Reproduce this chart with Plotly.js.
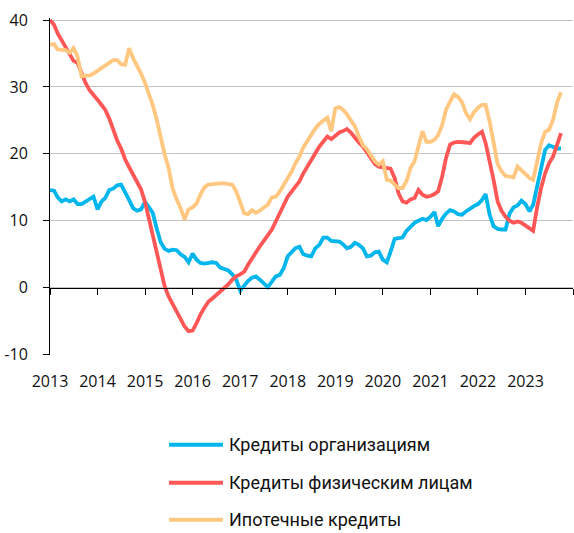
<!DOCTYPE html>
<html><head><meta charset="utf-8">
<script src="https://cdn.plot.ly/plotly-3.0.1.min.js"></script>
<style>html,body{margin:0;padding:0;background:#fff}#chart{width:574px;height:533px}</style>
</head><body><div id="chart"></div>
<script>
const seriesNames = ['Кредиты организациям', 'Кредиты физическим лицам', 'Ипотечные кредиты'];
const seriesColors = ['#00B6EC', '#FF5656', '#FFC77F'];
const yearLabels = ['2013','2014','2015','2016','2017','2018','2019','2020','2021','2022','2023'];
const yTickVals = [-10, 0, 10, 20, 30, 40];
const yTickText = ['-10', '0', '10', '20', '30', '40'];
const startYear = 2013;

// Monthly y/y growth, %, Jan 2013 – Oct 2023
const corporate = [
 14.6,14.5,13.5,12.9,13.2,12.9,13.2,12.5,12.5,12.9,13.3,13.6,
 11.7,12.9,13.4,14.6,14.8,15.3,15.4,14.1,13.1,11.9,11.5,11.7,
 12.8,12.0,11.2,8.8,6.8,5.8,5.5,5.7,5.6,5.0,4.6,3.8,
 5.1,4.2,3.7,3.6,3.7,3.8,3.7,3.0,2.8,2.6,2.0,1.2,
 -0.4,0.4,1.0,1.5,1.7,1.2,0.7,0.1,0.9,1.7,1.9,2.9,
 4.7,5.4,5.9,6.1,5.0,4.8,4.7,5.9,6.4,7.5,7.5,7.0,
 6.9,6.9,6.5,5.9,6.1,6.7,6.4,5.9,4.7,4.8,5.3,5.4,
 4.2,3.8,5.4,7.3,7.4,7.5,8.5,9.2,9.7,10.0,10.3,10.1,
 10.6,11.3,9.2,10.3,11.1,11.6,11.4,11.0,10.9,11.4,11.9,12.2,
 12.5,13.1,14.0,10.9,9.2,8.8,8.7,8.7,11.1,12.0,12.3,13.0,
 12.5,11.4,12.4,15.1,18.1,20.6,21.3,21.1,20.8,20.8
];
const retail = [
 40.0,39.3,38.0,36.9,35.9,35.0,33.9,33.6,31.9,30.6,29.5,28.7,
 28.1,27.3,26.6,25.3,23.6,22.0,20.8,19.2,18.0,17.0,15.7,14.7,
 12.8,10.2,7.6,4.8,2.4,0.2,-1.3,-2.5,-3.7,-4.7,-5.8,-6.5,
 -6.4,-5.3,-4.0,-3.0,-2.1,-1.6,-1.1,-0.5,0.0,0.5,1.2,1.7,
 2.0,2.4,3.4,4.4,5.3,6.2,7.0,7.9,8.7,9.9,11.1,12.4,
 13.6,14.4,15.1,15.9,17.1,18.2,19.1,20.1,21.1,21.9,22.6,22.2,
 22.8,23.2,23.4,23.7,23.2,22.4,21.7,21.1,20.3,19.5,18.5,18.1,
 18.0,17.9,17.8,16.4,14.1,12.9,12.7,13.2,13.4,14.6,13.9,13.6,
 13.7,14.0,14.4,16.6,19.4,21.4,21.7,21.8,21.8,21.7,21.6,22.4,
 22.9,23.3,21.6,18.9,16.1,12.9,11.5,10.6,10.0,9.7,9.9,9.7,
 9.3,9.0,8.5,12.1,14.9,17.1,18.6,19.6,21.3,23.1
];
const mortgage = [
 36.3,36.4,35.6,35.5,35.5,35.1,35.8,34.5,31.6,31.7,31.7,32.0,
 32.4,32.8,33.3,33.7,34.0,34.0,33.4,33.3,35.8,34.3,33.2,32.0,
 30.6,29.0,27.3,25.1,22.3,19.9,17.9,14.8,13.2,11.9,10.2,11.7,
 12.0,12.6,13.9,15.0,15.4,15.5,15.6,15.6,15.6,15.5,15.4,14.4,
 12.9,11.1,11.0,11.6,11.2,11.5,12.0,12.4,13.5,13.6,14.4,15.4,
 16.2,17.4,18.6,19.6,21.0,22.0,22.8,23.8,24.5,24.9,25.4,23.4,
 26.8,27.0,26.6,25.9,25.1,24.1,22.6,21.3,20.7,19.7,18.9,18.4,
 18.9,16.1,16.0,15.4,14.9,14.9,15.9,17.9,18.9,21.1,23.4,21.8,
 21.8,22.1,22.8,24.3,26.6,27.8,28.9,28.5,27.7,26.1,25.2,26.2,
 26.9,27.3,27.3,24.8,21.3,18.5,17.4,16.7,16.6,16.5,18.1,17.5,
 17.0,16.4,16.1,18.9,21.6,23.3,23.6,25.1,27.7,29.2
];

const pad = n => String(n).padStart(2, '0');
const months = corporate.map((_, i) => `${startYear + Math.floor(i / 12)}-${pad(i % 12 + 1)}-01`);
const yearTicks = yearLabels.map(y => `${y}-01-01`);
const allYearTicks = yearTicks.concat([`${startYear + yearLabels.length}-01-01`]);
const xRange = [yearTicks[0], allYearTicks[allYearTicks.length - 1]];
const yRange = [-10.05, 40.3];
const zeroPos = (0 - yRange[0]) / (yRange[1] - yRange[0]);

const seriesData = [corporate, retail, mortgage];
const traces = seriesData.map((vals, k) => ({
  type: 'scatter', mode: 'lines', x: months, y: vals, name: seriesNames[k],
  xaxis: 'x', yaxis: 'y',
  line: {color: seriesColors[k], width: 3.8, shape: 'linear'},
  hoverinfo: 'skip'
}));
// empty helper trace so that the zero-line axis (x2) gets drawn
traces.push({type: 'scatter', mode: 'lines', x: [], y: [], xaxis: 'x2', yaxis: 'y',
  showlegend: false, hoverinfo: 'skip'});

// manual legend below the plot
const legendRowsY = [-0.2662, -0.3789, -0.4887];
const shapes = [], annotations = [];
seriesNames.forEach((nm, k) => {
  shapes.push({type: 'line', xref: 'paper', yref: 'paper', x0: 0.2275, x1: 0.3308,
    y0: legendRowsY[k], y1: legendRowsY[k], line: {color: seriesColors[k], width: 4}});
  annotations.push({xref: 'paper', yref: 'paper', x: 0.3385, y: legendRowsY[k],
    xanchor: 'left', yanchor: 'middle', showarrow: false, text: nm,
    font: {family: 'Roboto, sans-serif', size: 18, color: '#111111'}});
});

const layout = {
  width: 574, height: 533,
  margin: {l: 50, r: 1, t: 18, b: 178, pad: 0},
  paper_bgcolor: '#ffffff', plot_bgcolor: '#ffffff',
  showlegend: false,
  font: {family: '"Open Sans", sans-serif', size: 16, color: '#111111'},
  xaxis: {type: 'date', range: xRange, tickmode: 'array', tickvals: yearTicks, ticktext: yearLabels,
    ticks: '', showgrid: false, zeroline: false, showline: false, ticklabelstandoff: 15, fixedrange: true},
  xaxis2: {type: 'date', overlaying: 'x', anchor: 'free', position: zeroPos, range: xRange,
    tickmode: 'array', tickvals: allYearTicks, ticks: 'outside', ticklen: 6, tickwidth: 1, tickcolor: '#000',
    showline: true, linecolor: '#000', linewidth: 1, showticklabels: false, showgrid: false, zeroline: false, fixedrange: true},
  yaxis: {range: yRange, tickmode: 'array', tickvals: yTickVals, ticktext: yTickText,
    showgrid: true, gridcolor: '#c4c4c4', gridwidth: 1, zeroline: false,
    showline: true, linecolor: '#000', linewidth: 1, ticks: 'outside', ticklen: 6, tickcolor: '#000',
    ticklabelstandoff: 12, fixedrange: true},
  shapes: shapes, annotations: annotations
};

Plotly.newPlot('chart', traces, layout, {staticPlot: true, displayModeBar: false});
</script></body></html>
